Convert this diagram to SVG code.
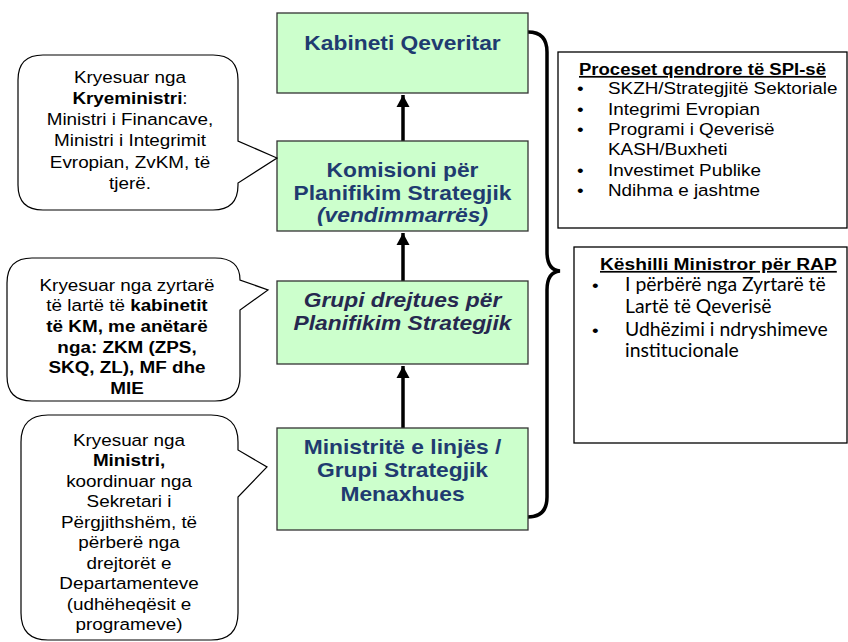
<svg xmlns="http://www.w3.org/2000/svg" width="848" height="642" viewBox="0 0 848 642">
<defs>
<style>
.box{fill:#CCFFCC;stroke:#333333;stroke-width:1.3}
.gt{font-family:"Liberation Sans",Arial,sans-serif;font-size:20px;font-weight:bold;fill:#1F3B70;text-anchor:middle}
.gti{font-family:"Liberation Sans",Arial,sans-serif;font-size:20px;font-weight:bold;font-style:italic;fill:#26284F;text-anchor:middle}
.call{fill:#FFFFFF;stroke:#000000;stroke-width:1.2}
.ct{font-family:"Liberation Sans",Arial,sans-serif;font-size:17px;fill:#000000;text-anchor:middle}
.b{font-weight:bold}
.rb{fill:#FFFFFF;stroke:#000000;stroke-width:1.3}
.rt{font-family:"Liberation Sans",Arial,sans-serif;font-size:17px;fill:#000000}
.rh{font-family:"Liberation Sans",Arial,sans-serif;font-size:17px;font-weight:bold;text-decoration:underline;fill:#000000}
.lt{font-family:Lato,"Open Sans",sans-serif;font-size:19.4px;fill:#000000}
.conn{stroke:#000000;stroke-width:3.5;fill:none}
</style>
<marker id="ah" markerUnits="userSpaceOnUse" markerWidth="14" markerHeight="14" viewBox="0 0 14 14" refX="12" refY="7" orient="auto">
<path d="M0,0.5 L12,7 L0,13.5 Z" fill="#000000"/>
</marker>
</defs>
<rect width="848" height="642" fill="#FFFFFF"/>

<g id="connectors">
<line class="conn" x1="403" y1="141" x2="403" y2="95" marker-end="url(#ah)"/>
<line class="conn" x1="403" y1="281" x2="403" y2="233" marker-end="url(#ah)"/>
<line class="conn" x1="403" y1="428" x2="403" y2="366" marker-end="url(#ah)"/>
<path class="conn" d="M528,32 Q547,32 547,52 V252 Q547,270 560,271 Q547,272 547,290 V497 Q547,517 528,517"/>
</g>

<g id="kabineti">
<rect class="box" x="277" y="13" width="251" height="80"/>
<g transform="translate(402.5,0) scale(1.14,1)"><text class="gt" x="0" y="50">Kabineti Qeveritar</text></g>
</g>

<g id="komisioni">
<rect class="box" x="277" y="141" width="251" height="90"/>
<g transform="translate(402.5,0) scale(1.14,1)">
<text class="gt" x="0" y="177">Komisioni për</text>
<text class="gt" x="0" y="200">Planifikim Strategjik</text>
<text class="gti" x="0" y="222" style="fill:#1F3B70">(vendimmarrës)</text>
</g>
</g>

<g id="grupi">
<rect class="box" x="277" y="281" width="251" height="83"/>
<g transform="translate(402.5,0) scale(1.14,1)">
<text class="gti" x="0" y="307">Grupi drejtues për</text>
<text class="gti" x="0" y="330">Planifikim Strategjik</text>
</g>
</g>

<g id="ministrite">
<rect class="box" x="277" y="428" width="251" height="102"/>
<g transform="translate(402.5,0) scale(1.14,1)">
<text class="gt" x="0" y="454">Ministritë e linjës /</text>
<text class="gt" x="0" y="477">Grupi Strategjik</text>
<text class="gt" x="0" y="501">Menaxhues</text>
</g>
</g>

<g id="callout1">
<path class="call" d="M43,55 H213 Q238,55 238,80 V141 L277,158 L238,183 V185 Q238,210 213,210 H43 Q18,210 18,185 V80 Q18,55 43,55 Z"/>
<g transform="translate(130,0) scale(1.11,1)">
<text class="ct" x="0" y="83">Kryesuar nga</text>
<text class="ct" x="0" y="104"><tspan class="b">Kryeministri</tspan>:</text>
<text class="ct" x="0" y="125.5">Ministri i Financave,</text>
<text class="ct" x="0" y="146.5">Ministri i Integrimit</text>
<text class="ct" x="0" y="168">Evropian, ZvKM, të</text>
<text class="ct" x="0" y="189">tjerë.</text>
</g>
</g>

<g id="callout2">
<path class="call" d="M32,258 H215 Q240,258 240,280 L268,290 L240,310 V376 Q240,401 215,401 H32 Q7,401 7,376 V283 Q7,258 32,258 Z"/>
<g transform="translate(127,0) scale(1.11,1)">
<text class="ct" x="0" y="291">Kryesuar nga zyrtarë</text>
<text class="ct" x="0" y="311.5">të lartë të <tspan class="b">kabinetit</tspan></text>
<text class="ct b" x="0" y="332">të KM, me anëtarë</text>
<text class="ct b" x="0" y="353">nga: ZKM (ZPS,</text>
<text class="ct b" x="0" y="373.5">SKQ, ZL), MF dhe</text>
<text class="ct b" x="0" y="394">MIE</text>
</g>
</g>

<g id="callout3">
<path class="call" d="M48,415 H211 Q238,415 238,442 V450 L267,467 L238,497 V613 Q238,640 211,640 H48 Q21,640 21,613 V442 Q21,415 48,415 Z"/>
<g transform="translate(129,0) scale(1.11,1)">
<text class="ct" x="0" y="446">Kryesuar nga</text>
<text class="ct b" x="0" y="466.5">Ministri,</text>
<text class="ct" x="0" y="487">koordinuar nga</text>
<text class="ct" x="0" y="507.5">Sekretari i</text>
<text class="ct" x="0" y="528">Përgjithshëm, të</text>
<text class="ct" x="0" y="548.5">përberë nga</text>
<text class="ct" x="0" y="569">drejtorët e</text>
<text class="ct" x="0" y="589.5">Departamenteve</text>
<text class="ct" x="0" y="610">(udhëheqësit e</text>
<text class="ct" x="0" y="630">programeve)</text>
</g>
</g>

<g id="proceset">
<rect class="rb" x="558" y="52" width="289" height="176"/>
<g transform="translate(579,0) scale(1.09,1)"><text class="rh" x="0" y="75">Proceset qendrore të SPI-së</text></g>
<g transform="translate(577,0) scale(1.11,1)">
<text class="rt" x="0" y="94">•</text>
<text class="rt" x="0" y="115">•</text>
<text class="rt" x="0" y="135.5">•</text>
<text class="rt" x="0" y="176">•</text>
<text class="rt" x="0" y="196.5">•</text>
</g>
<g transform="translate(608,0) scale(1.11,1)">
<text class="rt" x="0" y="94">SKZH/Strategjitë Sektoriale</text>
<text class="rt" x="0" y="115">Integrimi Evropian</text>
<text class="rt" x="0" y="135.5">Programi i Qeverisë</text>
<text class="rt" x="0" y="155">KASH/Buxheti</text>
<text class="rt" x="0" y="176">Investimet Publike</text>
<text class="rt" x="0" y="196.5">Ndihma e jashtme</text>
</g>
</g>

<g id="keshilli">
<rect class="rb" x="574" y="247" width="273" height="196"/>
<g transform="translate(600,0) scale(1.13,1)"><text class="rh" x="0" y="270">Këshilli Ministror për RAP</text></g>
<g transform="translate(592,0) scale(1.11,1)">
<text class="rt" x="0" y="291">•</text>
<text class="rt" x="0" y="336">•</text>
</g>
<g transform="translate(625,0)">
<text class="lt" x="0" y="291">I përbërë nga Zyrtarë të</text>
<text class="lt" x="0" y="313">Lartë të Qeverisë</text>
<text class="lt" x="0" y="336">Udhëzimi i ndryshimeve</text>
<text class="lt" x="0" y="357">institucionale</text>
</g>
</g>
</svg>
